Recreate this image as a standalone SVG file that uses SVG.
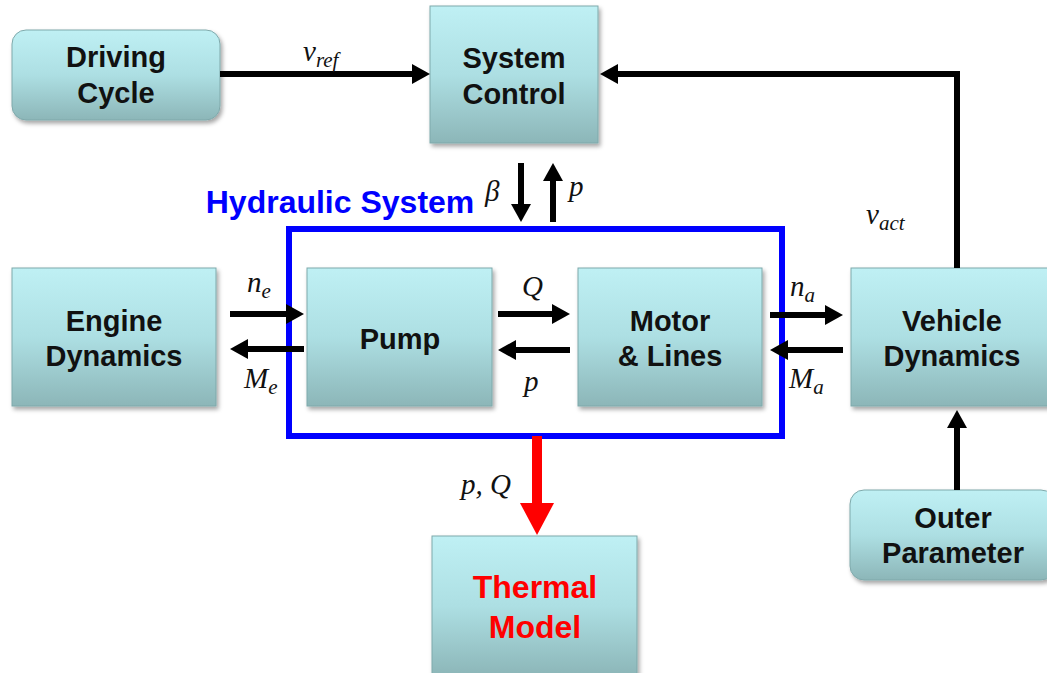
<svg xmlns="http://www.w3.org/2000/svg" width="1047" height="673" viewBox="0 0 1047 673">
<style>
.box{fill:url(#g);stroke:#7fa9ab;stroke-width:1;filter:url(#sh)}
.lbl{font-family:"Liberation Sans",Arial,sans-serif;font-weight:bold;font-size:29px;text-anchor:middle;fill:#111}
.red{fill:#ff0000;font-size:32px}
.m{font-family:"Liberation Serif","DejaVu Serif",serif;font-style:italic;font-size:29px;fill:#111}
.sub{font-size:21px}
.c{stroke:#000;stroke-width:6;fill:none;marker-end:url(#ah)}
</style>
<defs>
<linearGradient id="g" x1="0" y1="0" x2="0" y2="1">
<stop offset="0" stop-color="#bff0f4"/>
<stop offset="0.5" stop-color="#addfe3"/>
<stop offset="1" stop-color="#8cb6b8"/>
</linearGradient>
<filter id="sh" x="-10%" y="-10%" width="125%" height="125%">
<feDropShadow dx="2" dy="3" stdDeviation="2" flood-color="#000" flood-opacity="0.35"/>
</filter>
<marker id="ah" markerUnits="userSpaceOnUse" markerWidth="22" markerHeight="22" refX="4" refY="10" orient="auto">
<path d="M0,0 L18,10 L0,20 z" fill="#000"/>
</marker>
<marker id="ahr" markerUnits="userSpaceOnUse" markerWidth="36" markerHeight="36" refX="4" refY="17" orient="auto">
<path d="M0,0 L32,17 L0,34 z" fill="#ff0000"/>
</marker>
</defs>
<rect width="1047" height="673" fill="#fff"/>

<g id="hydraulic-system">
<rect x="289" y="229" width="493" height="207" fill="none" stroke="#0000ff" stroke-width="6"/>
<text x="340" y="213" font-family="'Liberation Sans',Arial,sans-serif" font-weight="bold" font-size="32" fill="#0000ff" text-anchor="middle">Hydraulic System</text>
</g>

<g id="driving-cycle">
<rect class="box" x="12" y="30" width="208" height="90" rx="14"/>
<text class="lbl" x="116" y="67">Driving</text>
<text class="lbl" x="116" y="103">Cycle</text>
</g>
<g id="system-control">
<rect class="box" x="430" y="6" width="168" height="137"/>
<text class="lbl" x="514" y="68">System</text>
<text class="lbl" x="514" y="104">Control</text>
</g>
<g id="engine-dynamics">
<rect class="box" x="12" y="268" width="204" height="138"/>
<text class="lbl" x="114" y="331">Engine</text>
<text class="lbl" x="114" y="366">Dynamics</text>
</g>
<g id="pump">
<rect class="box" x="307" y="268" width="185" height="138"/>
<text class="lbl" x="400" y="349">Pump</text>
</g>
<g id="motor-lines">
<rect class="box" x="578" y="268" width="184" height="138"/>
<text class="lbl" x="670" y="331">Motor</text>
<text class="lbl" x="670" y="366">&amp; Lines</text>
</g>
<g id="vehicle-dynamics">
<rect class="box" x="851" y="268" width="200" height="138"/>
<text class="lbl" x="952" y="331">Vehicle</text>
<text class="lbl" x="952" y="366">Dynamics</text>
</g>
<g id="thermal-model">
<rect class="box" x="432" y="536" width="205" height="140"/>
<text class="lbl red" x="535" y="598">Thermal</text>
<text class="lbl red" x="535" y="638">Model</text>
</g>
<g id="outer-parameter">
<rect class="box" x="850" y="490" width="205" height="90" rx="14"/>
<text class="lbl" x="953" y="528">Outer</text>
<text class="lbl" x="953" y="563">Parameter</text>
</g>

<g id="connectors">
<line class="c" x1="220" y1="74" x2="416" y2="74"/>
<path class="c" d="M957,268 V74 H614"/>
<line class="c" x1="521" y1="163" x2="521" y2="208"/>
<line class="c" x1="553" y1="222" x2="553" y2="177"/>
<line class="c" x1="230" y1="314" x2="290" y2="314"/>
<line class="c" x1="304" y1="349" x2="244" y2="349"/>
<line class="c" x1="498" y1="314" x2="556" y2="314"/>
<line class="c" x1="570" y1="350" x2="512" y2="350"/>
<line class="c" x1="770" y1="315" x2="829" y2="315"/>
<line class="c" x1="843" y1="350" x2="784" y2="350"/>
<line class="c" x1="957" y1="490" x2="957" y2="424"/>
<line x1="537" y1="436" x2="537" y2="507" stroke="#ff0000" stroke-width="10" marker-end="url(#ahr)"/>
</g>

<g id="labels">
<text class="m" x="303" y="61">v<tspan class="sub" dy="6">ref</tspan></text>
<text class="m" x="866" y="224">v<tspan class="sub" dy="6">act</tspan></text>
<text class="m" x="485" y="201">β</text>
<text class="m" x="569" y="196">p</text>
<text class="m" x="247" y="292">n<tspan class="sub" dy="6">e</tspan></text>
<text class="m" x="244" y="388">M<tspan class="sub" dy="6">e</tspan></text>
<text class="m" x="522" y="296">Q</text>
<text class="m" x="524" y="391">p</text>
<text class="m" x="790" y="296">n<tspan class="sub" dy="6">a</tspan></text>
<text class="m" x="789" y="388">M<tspan class="sub" dy="6">a</tspan></text>
<text class="m" x="461" y="494">p, Q</text>
</g>
</svg>
